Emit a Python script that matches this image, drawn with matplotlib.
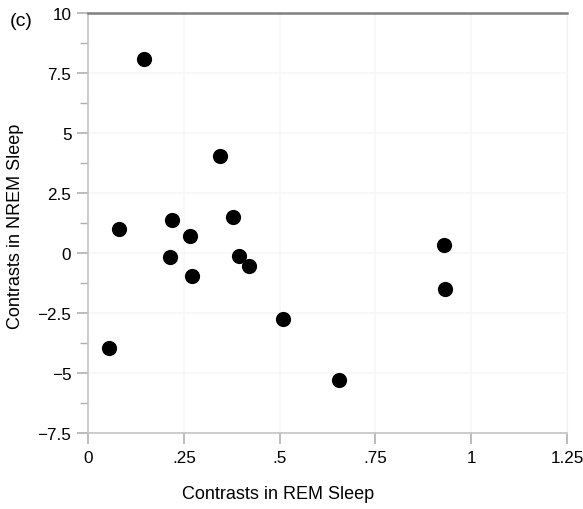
import matplotlib.pyplot as plt
from matplotlib.ticker import FixedLocator

# data
rem = [0.146, 0.345, 0.080, 0.218, 0.378, 0.266, 0.214, 0.393, 0.421, 0.271,
       0.510, 0.055, 0.656, 0.928, 0.932]
nrem = [8.08, 4.07, 1.01, 1.39, 1.50, 0.71, -0.14, -0.13, -0.52, -0.93,
        -2.74, -3.96, -5.28, 0.35, -1.50]

xticks = [0, 0.25, 0.5, 0.75, 1, 1.25]
xticklabels = ['0', '.25', '.5', '.75', '1', '1.25']
yticks = [-7.5, -5, -2.5, 0, 2.5, 5, 7.5, 10]
yticklabels = ['\u22127.5', '\u22125', '\u22122.5', '0', '2.5', '5', '7.5', '10']

plt.rcParams['font.family'] = ['Liberation Sans', 'DejaVu Sans']

fig = plt.figure(figsize=(5.83, 5.10), dpi=100)
ax = fig.add_axes([0.151, 0.1484, 0.8216, 0.8236])

ax.scatter(rem, nrem, s=120, color='black', zorder=3, linewidths=0)

ax.set_xlim(0, 1.25)
ax.set_ylim(-7.5, 10)
ax.set_xticks(xticks)
ax.set_xticklabels(xticklabels)
ax.set_yticks(yticks)
ax.set_yticklabels(yticklabels)
ax.yaxis.set_minor_locator(FixedLocator([-6.25, -3.75, -1.25, 1.25, 3.75, 6.25, 8.75]))

ax.grid(True, color='#f7f7f7', linewidth=1.2, zorder=0)

for side in ['left', 'bottom']:
    ax.spines[side].set_color('#c4c4c4')
    ax.spines[side].set_linewidth(1.2)
ax.spines['top'].set_color('#808080')
ax.spines['top'].set_linewidth(1.8)
ax.spines['right'].set_color('#f3f3f3')

ax.tick_params(axis='both', which='major', labelsize=12.3, color='#b0b0b0',
               length=8, width=1.2, direction='out', pad=4)
ax.tick_params(axis='y', which='minor', color='#b0b0b0', length=6, width=1.0)

# axis titles placed like the reference
fig.text(278 / 583, 1 - 495 / 510, 'Contrasts in REM Sleep', fontsize=13,
         ha='center', va='center')
fig.text(16 / 583, 1 - 226 / 510, 'Contrasts in NREM Sleep', fontsize=13,
         rotation=90, ha='center', va='center')

fig.text(21 / 583, 1 - 22 / 510, '(c)', fontsize=14, ha='center', va='center')

fig.savefig('out.png', dpi=100)
